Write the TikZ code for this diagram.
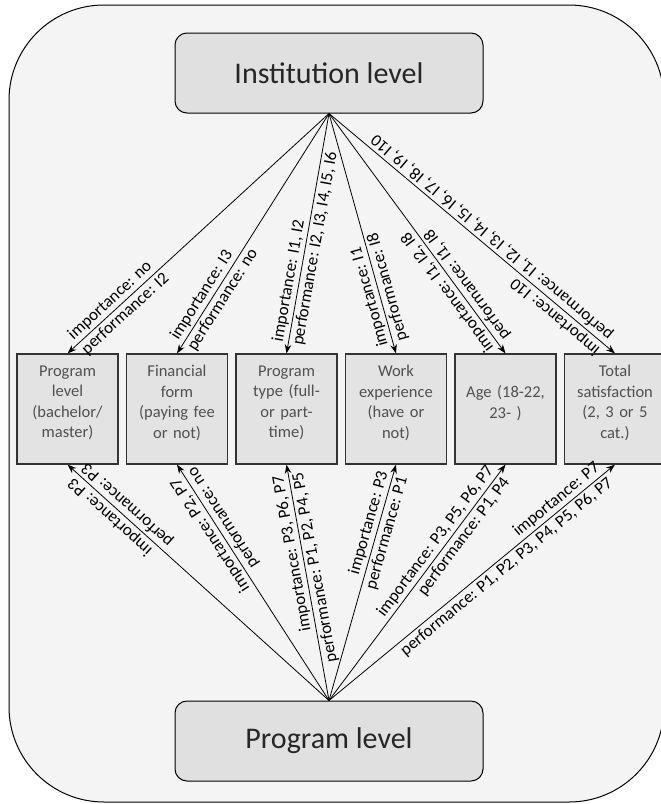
\documentclass[tikz,border=0pt]{standalone}
\usepackage{fontspec}
\setmainfont{Carlito}
\usetikzlibrary{arrows.meta,positioning}
\definecolor{bgcolor}{HTML}{F4F4F4}
\definecolor{levelcolor}{HTML}{E0E0E0}
\definecolor{factorcolor}{HTML}{E3E3E3}
\definecolor{factortext}{HTML}{505050}

\begin{document}
\begin{tikzpicture}[
    x=1pt, y=-1pt,
    level/.style={rectangle, draw, line width=1pt, fill=levelcolor, rounded corners=12pt, minimum width=308pt, minimum height=80pt, font=\fontsize{30}{34}\selectfont, text=black!85},
    factor/.style={rectangle, draw=black!80, line width=1.1pt, fill=factorcolor, minimum width=101pt, minimum height=110pt, text width=97pt, inner sep=2pt, align=center, font=\fontsize{16.5}{20.5}\selectfont, text=factortext, execute at end node={\endgraf\vspace{12pt}}},
    arrow/.style={line width=0.8pt, -{Stealth[length=9pt,width=6.5pt]}},
    backarrow/.style={line width=0.8pt, {Stealth[length=9pt,width=6.5pt]}-},
    lab/.style={sloped, allow upside down, inner sep=2.5pt, font=\fontsize{17}{20}\selectfont},
    imptop/.style={lab, pos=0.03, anchor=south west},
    perftop/.style={lab, pos=0.03, anchor=north west},
    impbot/.style={lab, pos=0.97, anchor=south east},
    perfbot/.style={lab, pos=0.97, anchor=north east}
]
\useasboundingbox (0,0) rectangle (661,804);

% Frame
\draw[line width=1pt, fill=bgcolor, rounded corners=95pt] (9,5) rectangle (664,802);

% Levels
\node[level] (inst) at (329,73) {Institution level};
\node[level] (prog) at (329,741) {Program level};

% Factors
\node[factor] (b1) at (67.5,409) {Program\\level\\(bachelor/\\master)};
\node[factor, right=7.4pt of b1] (b2) {Financial\\form\\(paying fee\\or not)};
\node[factor, right=7.4pt of b2] (b3) {Program\\type (full-\\or part-\\time)};
\node[factor, right=7.4pt of b3] (b4) {Work\\experience\\(have or\\not)};
\node[factor, right=7.4pt of b4] (b5) {Age (18-22,\\23- )};
\node[factor, right=7.4pt of b5] (b6) {Total\\satisfaction\\(2, 3 or 5\\cat.)};

% Institution level to factors
\draw[backarrow] (b1.north) -- (inst.south) node[imptop] {importance: no} node[perftop] {performance: I2};
\draw[backarrow] (b2.north) -- (inst.south) node[imptop] {importance: I3} node[perftop] {performance: no};
\draw[backarrow] (b3.north) -- (inst.south) node[imptop] {importance: I1, I2} node[perftop] {performance: I2, I3, I4, I5, I6};
\draw[backarrow] (b4.north) -- (inst.south) node[imptop] {importance: I1} node[perftop] {performance: I8};
\draw[backarrow] (b5.north) -- (inst.south) node[imptop] {importance: I1, I2, I8} node[perftop] {performance: I1, I8};
\draw[backarrow] (b6.north) -- (inst.south) node[imptop] {importance: I10} node[perftop] {performance: I1, I2, I3, I4, I5, I6, I7, I8, I9, I10};

% Program level to factors
\draw[arrow] (prog.north) -- (b1.south) node[impbot] {importance: P3} node[perfbot] {performance: P3};
\draw[arrow] (prog.north) -- (b2.south) node[impbot] {importance: P2, P7} node[perfbot] {performance: no};
\draw[arrow] (prog.north) -- (b3.south) node[impbot] {importance: P3, P6, P7} node[perfbot] {performance: P1, P2, P4, P5};
\draw[arrow] (prog.north) -- (b4.south) node[impbot] {importance: P3} node[perfbot] {performance: P1};
\draw[arrow] (prog.north) -- (b5.south) node[impbot] {importance: P3, P5, P6, P7} node[perfbot] {performance: P1, P4};
\draw[arrow] (prog.north) -- (b6.south) node[impbot] {importance: P7} node[perfbot] {performance: P1, P2, P3, P4, P5, P6, P7};

\end{tikzpicture}
\end{document}
